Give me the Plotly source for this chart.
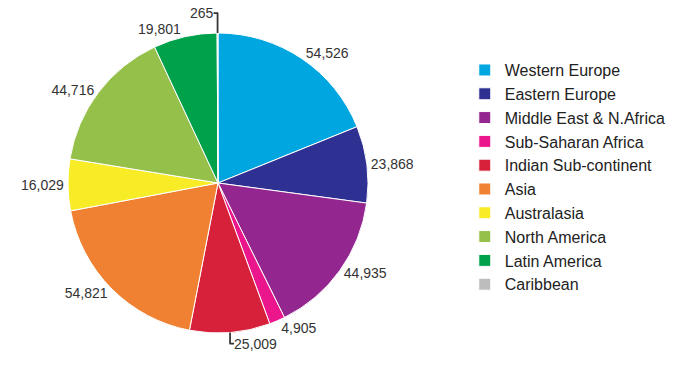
import plotly.graph_objects as go

regions = ["Western Europe", "Eastern Europe", "Middle East & N.Africa", "Sub-Saharan Africa",
           "Indian Sub-continent", "Asia", "Australasia", "North America", "Latin America", "Caribbean"]
values = [54526, 23868, 44935, 4905, 25009, 54821, 16029, 44716, 19801, 265]
labels_text = ["54,526", "23,868", "44,935", "4,905", "25,009", "54,821", "16,029", "44,716", "19,801", "265"]
colors = ["#00A6DF", "#2E3192", "#93278F", "#EC168C", "#D7213A", "#F08132", "#F7EC26", "#95C14B", "#00A14B", "#BDBDBD"]

fig = go.Figure(go.Pie(
    labels=regions, values=values, text=labels_text,
    textinfo="text", textposition="outside",
    sort=False, direction="clockwise", rotation=0,
    marker=dict(colors=colors, line=dict(color="white", width=1)),
    textfont=dict(family="Liberation Sans, Arial, sans-serif", size=14, color="#333"),
    domain=dict(x=[0.08696, 0.52174], y=[0.13564, 0.93351]),
    showlegend=True,
))
fig.update_layout(
    width=690, height=376,
    margin=dict(l=0, r=0, t=0, b=0, autoexpand=False),
    paper_bgcolor="white", plot_bgcolor="white",
    font=dict(family="Liberation Sans, Arial, sans-serif", color="#222"),
    legend=dict(x=0.662, y=0.549, xanchor="left", yanchor="middle",
                font=dict(size=16, color="#222", family="Liberation Sans, Arial, sans-serif"),
                traceorder="normal"),
)
fig.write_html("out.html")
